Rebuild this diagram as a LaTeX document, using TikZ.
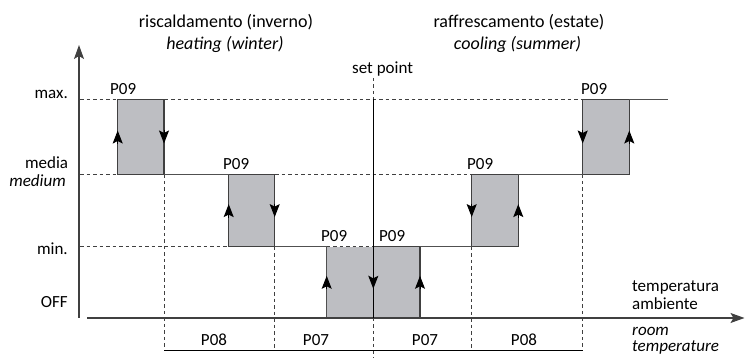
\documentclass[tikz,border=0pt]{standalone}
\usepackage{fontspec}
\setmainfont{Carlito}
\usetikzlibrary{arrows.meta}
\definecolor{boxfill}{HTML}{BDBEC2}
\definecolor{edge}{HTML}{404040}
\definecolor{stepc}{HTML}{505050}
\newcommand\arrUp[2]{\draw[tipst] (#1,#2+7) -- (#1,#2-6.5);}
\newcommand\arrDn[2]{\draw[tipst] (#1,#2-7) -- (#1,#2+6.5);}
\begin{document}
\begin{tikzpicture}[x=1pt,y=-1pt,
 lbl/.style={font=\fontsize{17}{20}\selectfont, inner sep=0pt},
 hdr/.style={font=\fontsize{18}{21}\selectfont, inner sep=0pt},
 dsh/.style={draw=edge, line width=0.8pt, dash pattern=on 3.5pt off 3pt},
 boxst/.style={fill=boxfill, draw=edge, line width=1.3pt},
 stepl/.style={draw=stepc, line width=1.3pt},
 axisl/.style={draw=edge, line width=1.2pt},
 tipst/.style={-{Stealth[length=13pt,width=10pt,inset=2.5pt]}, line width=1pt, draw=black, fill=black}
]
\useasboundingbox (0,0) rectangle (745,358);
% dashed guide lines
\draw[dsh] (80,99.5) -- (582.7,99.5);
\draw[dsh] (80,174.5) -- (471.7,174.5);
\draw[dsh] (80,246.7) -- (326.7,246.7);
\draw[dsh] (164,174.5) -- (164,350);
\draw[dsh] (274.7,246.7) -- (274.7,350);
\draw[dsh] (471.7,246.7) -- (471.7,350);
\draw[dsh] (582.7,174.5) -- (582.7,350);
\draw[dsh] (373.3,78) -- (373.3,99.5);
\draw[dsh] (373.3,318) -- (373.3,358);
% boxes
\draw[boxst] (117.7,99.5) rectangle (164,174.5);
\draw[boxst] (228.7,174.5) rectangle (274.7,246.7);
\fill[boxfill] (326.7,246.7) rectangle (373.3,318);
\draw[stepl] (326.7,246.7) -- (326.7,318);
\draw[dsh] (326.7,246.7) -- (373.3,246.7);
\draw[boxst] (373.3,246.7) rectangle (420,318);
\draw[boxst] (471.7,174.5) rectangle (518.3,246.7);
\draw[boxst] (582.7,99.5) rectangle (629.3,174.5);
% step lines
\draw[stepl] (164,174.5) -- (228.7,174.5);
\draw[stepl] (274.7,246.7) -- (326.7,246.7);
\draw[stepl] (420,246.7) -- (471.7,246.7);
\draw[stepl] (518.3,174.5) -- (582.7,174.5);
\draw[stepl] (629.3,99.5) -- (667.7,99.5);
% axes
\draw[axisl, -{Stealth[length=14pt,width=10pt,inset=3pt]}] (79,318) -- (79,45);
\draw[axisl, -{Stealth[length=14pt,width=10pt,inset=3pt]}] (87,318) -- (744.5,318);
% set point
\draw[black, line width=1.3pt] (373.3,99.5) -- (373.3,318);
% bracket
\draw[black, line width=0.9pt] (164,350) -- (582.7,350);
% arrows
\arrUp{117.7}{137}
\arrDn{164}{137}
\arrUp{228.7}{210.6}
\arrDn{274.7}{210.6}
\arrUp{326.7}{282.3}
\arrDn{373.3}{282.3}
\arrUp{420}{282.3}
\arrDn{471.7}{210.6}
\arrUp{518.3}{210.6}
\arrDn{582.7}{137}
\arrUp{629.3}{137}
% headers
\node[hdr, anchor=base] (h1) at (226,27.3) {riscaldamento (inverno)};
\node[hdr, anchor=base] (h1i) at (225,49.3) {\itshape heating (winter)};
\node[hdr, anchor=base] (h2) at (519,27.3) {raffrescamento (estate)};
\node[hdr, anchor=base] (h2i) at (517.5,49.3) {\itshape cooling (summer)};
\node[lbl, anchor=base west] (sp) at (352,73.3) {set point};
% level labels
\node[lbl, anchor=base east] (tmax) at (68,99) {max.};
\node[lbl, anchor=base east] (tmed) at (68.3,168.5) {media};
\node[lbl, anchor=base east] (tmedi) at (66,186.5) {\itshape medium};
\node[lbl, anchor=base east] (tmin) at (68,255) {min.};
\node[lbl, anchor=base east] (toff) at (68,308) {OFF};
% P09
\node[lbl, anchor=base west] (p1) at (110,94.3) {P09};
\node[lbl, anchor=base west] (p2) at (223,169.3) {P09};
\node[lbl, anchor=base west] (p3) at (321,241.5) {P09};
\node[lbl, anchor=base west] (p4) at (379,241.5) {P09};
\node[lbl, anchor=base west] (p5) at (467,169.3) {P09};
\node[lbl, anchor=base west] (p6) at (581,94.3) {P09};
% P08 / P07
\node[lbl, anchor=base] (q1) at (214,345) {P08};
\node[lbl, anchor=base] (q2) at (316,345) {P07};
\node[lbl, anchor=base] (q3) at (425,345) {P07};
\node[lbl, anchor=base] (q4) at (524,345) {P08};
% x axis label
\node[lbl, anchor=base west] (xa) at (632,291.5) {temperatura};
\node[lbl, anchor=base west] (xb) at (632,310) {ambiente};
\node[lbl, anchor=base west] (xc) at (632,335) {\itshape room};
\node[lbl, anchor=base west] (xd) at (632,351.5) {\itshape temperature};
\end{tikzpicture}
\end{document}
